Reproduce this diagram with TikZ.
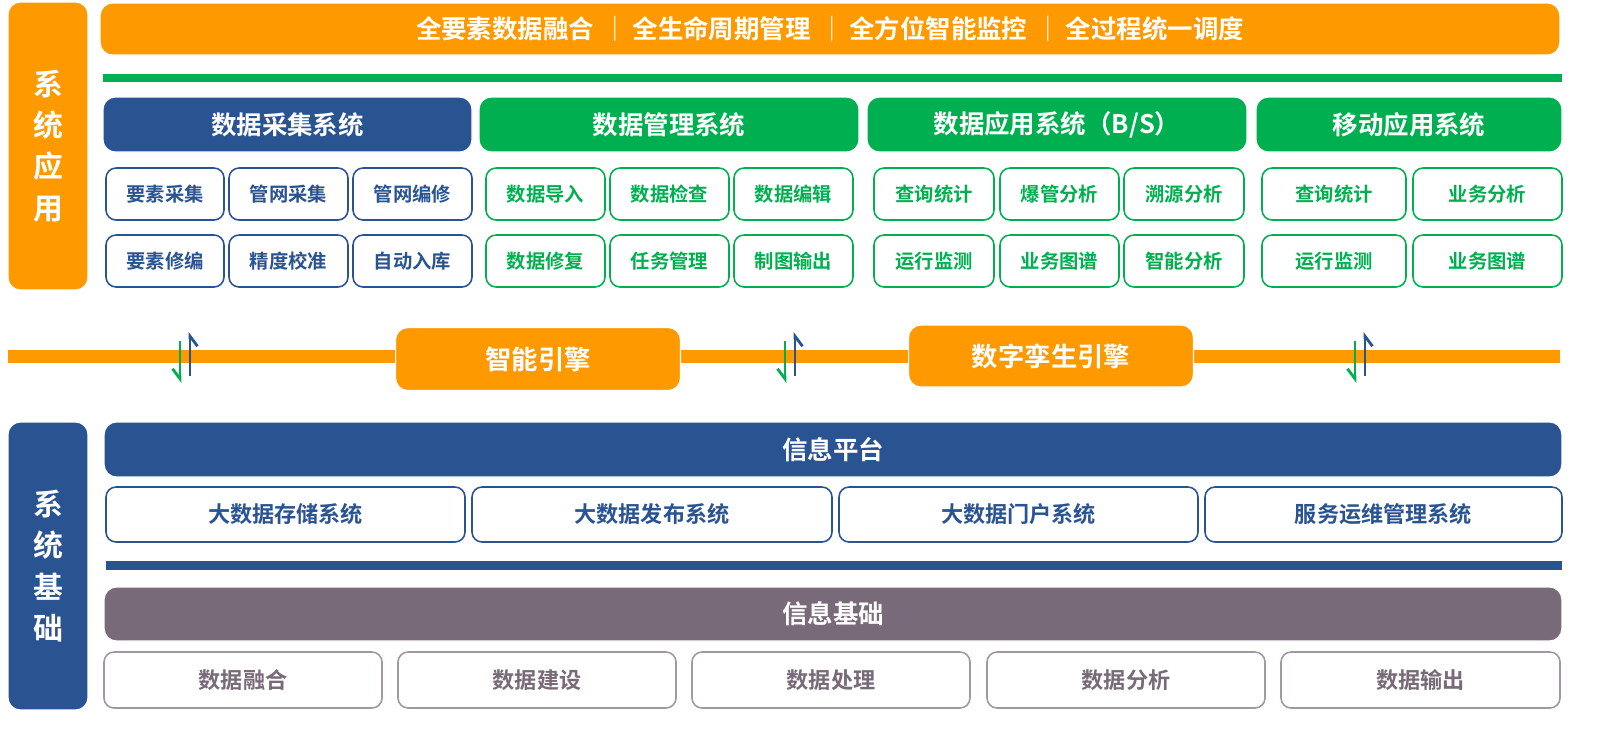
\documentclass[tikz,border=0pt]{standalone}
\usepackage{fontspec}
\newfontfamily\cjk{Noto Sans CJK SC}
\newfontfamily\cjkb{Noto Sans CJK SC Bold}
\usetikzlibrary{arrows.meta}
\definecolor{org}{HTML}{FF9900}
\definecolor{blu}{HTML}{2A5391}
\definecolor{grn}{HTML}{00B050}
\definecolor{gry}{HTML}{786A78}
\tikzset{
  bar/.style={rounded corners=2.5mm,draw=white,line width=0.6pt,inner sep=0pt,text=white,font=\cjkb\fontsize{14.5}{16}\selectfont},
  cell/.style={rounded corners=2mm,fill=white,line width=0.9pt,inner sep=0pt,font=\cjkb\fontsize{11}{13}\selectfont},
  side/.style={bar,align=center,font=\cjkb\fontsize{17}{23.5}\selectfont},
  up/.style={blu,line width=1.6pt,-{Straight Barb[right,length=2mm,width=3mm]}},
  dn/.style={grn,line width=1.6pt,-{Straight Barb[right,length=2mm,width=3mm]}}
}
\begin{document}
\begin{tikzpicture}[x=0.02cm,y=-0.02cm]
  \useasboundingbox (0,0) rectangle (1600,728);

  % application side
  \node[side,fill=org,minimum width=1.6cm,minimum height=5.76cm] (app) at (48,146) {系\\统\\应\\用};
  \node[bar,fill=org,minimum width=29.2cm,minimum height=1.04cm] (goal) at (830,29)
    {全要素数据融合\,{\cjk\,｜\,}全生命周期管理\,{\cjk\,｜\,}全方位智能监控\,{\cjk\,｜\,}全过程统一调度};
  \fill[grn] (103,74) rectangle (1562,82);

  \foreach \n/\xa/\xb/\c/\t in {h1/103/472/blu/数据采集系统,h2/479/859/grn/数据管理系统,
      h3/867/1247/grn/{数据应用系统（B/S）},h4/1256/1562/grn/移动应用系统}
    \node[bar,fill=\c,minimum width={(\xb-\xa)*0.02cm},minimum height=1.1cm] (\n) at ({(\xa+\xb)/2},124.5) {\t};

  \foreach \n/\xa/\xb/\y/\t in {a1/106/224/194/要素采集,a2/229/348/194/管网采集,a3/353/472/194/管网编修,
      a4/106/224/261/要素修编,a5/229/348/261/精度校准,a6/353/472/261/自动入库}
    \node[cell,draw=blu,text=blu,minimum width={(\xb-\xa)*0.02cm},minimum height=1.04cm] (\n) at ({(\xa+\xb)/2},\y) {\t};
  \foreach \n/\xa/\xb/\y/\t in {b1/486/605/194/数据导入,b2/610/729/194/数据检查,b3/734/853/194/数据编辑,
      b4/486/605/261/数据修复,b5/610/729/261/任务管理,b6/734/853/261/制图输出,
      c1/874/994/194/查询统计,c2/1000/1119/194/爆管分析,c3/1124/1244/194/溯源分析,
      c4/874/994/261/运行监测,c5/1000/1119/261/业务图谱,c6/1124/1244/261/智能分析,
      d1/1262/1406/194/查询统计,d2/1413/1562/194/业务分析,
      d3/1262/1406/261/运行监测,d4/1413/1562/261/业务图谱}
    \node[cell,draw=grn,text=grn,minimum width={(\xb-\xa)*0.02cm},minimum height=1.04cm] (\n) at ({(\xa+\xb)/2},\y) {\t};

  % engines
  \fill[org] (8,350) rectangle (1560,363);
  \node[bar,fill=org,draw=white,font=\cjkb\fontsize{15}{17}\selectfont,minimum width=5.7cm,minimum height=1.26cm] (ai) at (538,359) {智能引擎};
  \node[bar,fill=org,draw=white,font=\cjkb\fontsize{15}{17}\selectfont,minimum width=5.7cm,minimum height=1.24cm] (twin) at (1051,356) {数字孪生引擎};
  \foreach \n/\x in {l/185,m/790,r/1360} {
    \coordinate (\n up0) at (\x+5,376);  \coordinate (\n up1) at (\x+5,332);
    \coordinate (\n dn0) at (\x-5,341);  \coordinate (\n dn1) at (\x-5,383);
    \draw[up] (\n up0) -- (\n up1);
    \draw[dn] (\n dn0) -- (\n dn1);
  }

  % foundation side
  \node[side,fill=blu,minimum width=1.6cm,minimum height=5.76cm] (base) at (48,566) {系\\统\\基\\础};
  \node[bar,fill=blu,minimum width=29.16cm,minimum height=1.1cm] (plat) at (833,449.5) {信息平台};
  \foreach \n/\xa/\xb/\t in {p1/106/465/大数据存储系统,p2/472/832/大数据发布系统,
      p3/839/1198/大数据门户系统,p4/1205/1562/服务运维管理系统}
    \node[cell,draw=blu,text=blu,font=\cjkb\fontsize{12.6}{14}\selectfont,minimum width={(\xb-\xa)*0.02cm},minimum height=1.1cm] (\n) at ({(\xa+\xb)/2},514.5) {\t};
  \fill[blu] (106,561) rectangle (1562,570);
  \node[bar,fill=gry,minimum width=29.16cm,minimum height=1.08cm] (basis) at (833,614) {信息基础};
  \foreach \n/\xa/\xb/\t in {q1/104/382/数据融合,q2/398/676/数据建设,q3/692/970/数据处理,
      q4/987/1265/数据分析,q5/1281/1560/数据输出}
    \node[cell,draw=gry!70,text=gry,font=\cjkb\fontsize{12.6}{14}\selectfont,minimum width={(\xb-\xa)*0.02cm},minimum height=1.12cm] (\n) at ({(\xa+\xb)/2},680) {\t};
\end{tikzpicture}
\end{document}
